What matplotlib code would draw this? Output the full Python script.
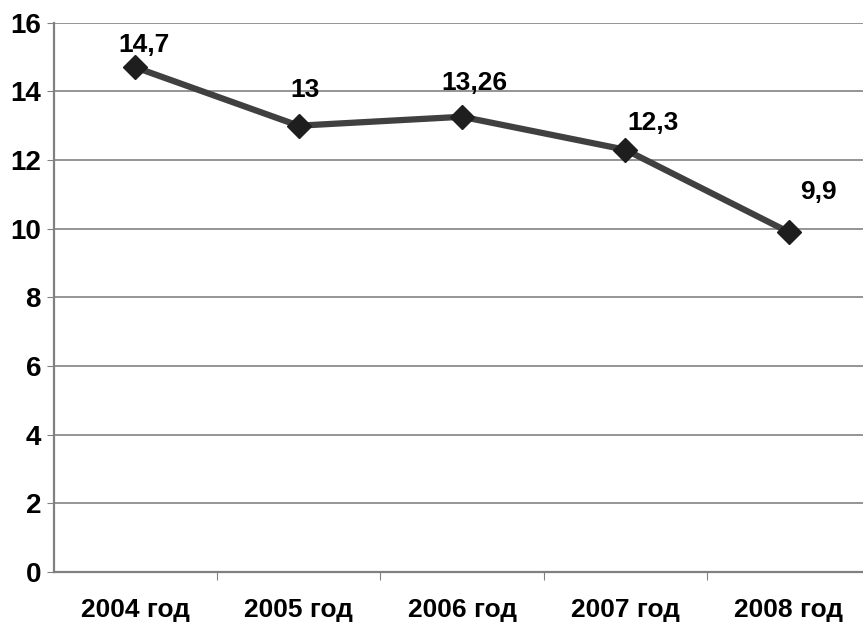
import matplotlib
matplotlib.use("Agg")
import matplotlib.pyplot as plt

years = ["2004 год", "2005 год", "2006 год", "2007 год", "2008 год"]
values = [14.7, 13.0, 13.26, 12.3, 9.9]
value_labels = ["14,7", "13", "13,26", "12,3", "9,9"]
# label offsets in points (dx, dy) relative to each marker
label_offsets = [(6, 16), (5, 26), (9, 24), (20, 19), (21, 29)]
y_ticks = [0, 2, 4, 6, 8, 10, 12, 14, 16]

plt.rcParams["font.family"] = ["Liberation Sans", "DejaVu Sans"]

fig = plt.figure(figsize=(8.63, 6.25), dpi=100)
ax = fig.add_axes([53.5 / 863, 1 - 572 / 625, 817 / 863, (572 - 22.7) / 625])

x = list(range(len(years)))
ax.plot(x, values, color="#404040", linewidth=4.5, zorder=3,
        marker="D", markersize=12, markerfacecolor="#1e1e1e",
        markeredgecolor="#1e1e1e", clip_on=False)

for xi, v, lab, (dx, dy) in zip(x, values, value_labels, label_offsets):
    ax.annotate(lab, (xi, v), xytext=(dx, dy), textcoords="offset points",
                ha="center", va="center", fontsize=19, fontweight="bold",
                color="black")

ax.set_xlim(-0.5, 4.5)
ax.set_ylim(0, 16)
ax.set_yticks(y_ticks)
ax.set_yticklabels([str(t) for t in y_ticks], fontsize=20, fontweight="bold")
ax.yaxis.grid(True, color="#8c8c8c", linewidth=1.3)
ax.set_axisbelow(True)

ax.set_xticks([0.5, 1.5, 2.5, 3.5])
ax.set_xticklabels([])
ax.set_xticks(x, minor=True)
ax.set_xticklabels(years, minor=True, fontsize=19, fontweight="bold")
ax.tick_params(axis="x", which="minor", length=0, pad=19)
ax.tick_params(axis="x", which="major", length=6, color="#808080", direction="out")
ax.tick_params(axis="y", length=5, color="#808080", pad=4)

for side in ["top", "right"]:
    ax.spines[side].set_visible(False)
for side in ["left", "bottom"]:
    ax.spines[side].set_color("#808080")
    ax.spines[side].set_linewidth(1.6)

fig.savefig("out.png", dpi=100)
